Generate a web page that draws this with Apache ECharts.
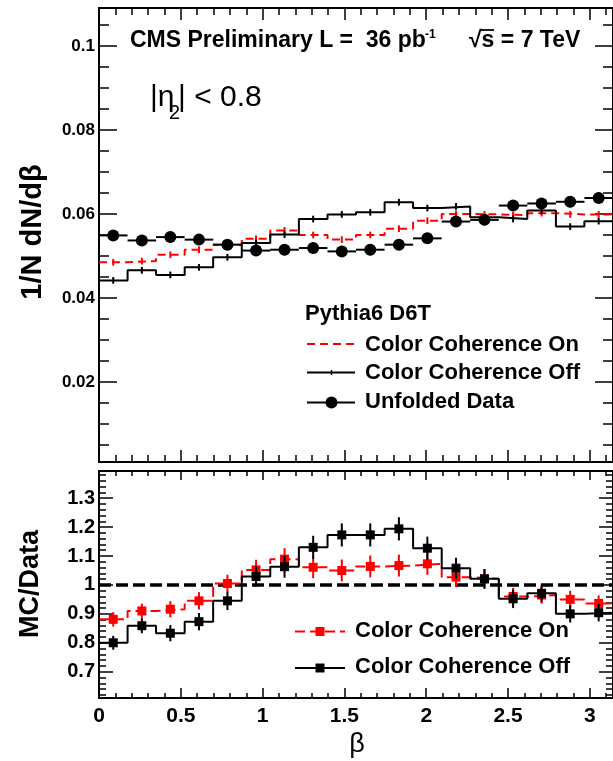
<!DOCTYPE html>
<html><head><meta charset="utf-8">
<script src="https://cdn.jsdelivr.net/npm/echarts@6/dist/echarts.min.js"></script>
<style>html,body{margin:0;padding:0;background:#fff}#c{width:613px;height:761px}</style>
</head><body><div id="c"></div>
<script>
// ---- data ----
const binCenters = [0.087,0.262,0.436,0.611,0.785,0.960,1.134,1.309,1.484,1.658,1.833,2.007,2.182,2.356,2.531,2.705,2.880,3.054];
const binHalf = 0.0873;
const dataVals = [0.0549,0.0537,0.0545,0.0539,0.0527,0.0513,0.0515,0.0519,0.0511,0.0515,0.0527,0.0542,0.0582,0.0586,0.0620,0.0625,0.0629,0.0638];
const dataErr  = [0.0013,0.0013,0.0013,0.0013,0.0013,0.0013,0.0013,0.0013,0.0013,0.0013,0.0013,0.0013,0.0013,0.0013,0.0013,0.0013,0.0013,0.0013];
const onVals   = [0.0485,0.0488,0.0503,0.0515,0.0527,0.0541,0.0561,0.0550,0.0539,0.0550,0.0565,0.0584,0.0600,0.0599,0.0597,0.0602,0.0599,0.0599];
const onErr    = [0.0008,0.0008,0.0008,0.0008,0.0008,0.0008,0.0008,0.0008,0.0008,0.0008,0.0008,0.0008,0.0008,0.0008,0.0008,0.0008,0.0008,0.0008];
const offVals  = [0.0442,0.0466,0.0455,0.0473,0.0497,0.0531,0.0551,0.0588,0.0599,0.0604,0.0628,0.0614,0.0618,0.0592,0.0588,0.0608,0.0570,0.0583];
const offErr   = [0.0008,0.0008,0.0008,0.0008,0.0008,0.0008,0.0008,0.0008,0.0008,0.0008,0.0008,0.0008,0.0008,0.0008,0.0008,0.0008,0.0008,0.0008];
const ratioOn     = [0.881,0.910,0.916,0.945,1.005,1.052,1.089,1.061,1.050,1.064,1.067,1.073,1.027,1.021,0.960,0.965,0.950,0.936];
const ratioOnErr  = [0.025,0.025,0.028,0.030,0.030,0.035,0.038,0.038,0.038,0.038,0.038,0.038,0.035,0.033,0.030,0.030,0.030,0.028];
const ratioOff    = [0.800,0.859,0.833,0.873,0.945,1.029,1.063,1.130,1.173,1.173,1.194,1.127,1.058,1.021,0.952,0.971,0.900,0.904];
const ratioOffErr = [0.024,0.026,0.028,0.030,0.032,0.035,0.038,0.040,0.040,0.040,0.040,0.040,0.036,0.034,0.032,0.030,0.030,0.030];
const xTickLabels = [0,0.5,1,1.5,2,2.5,3];
const yTopTickLabels = [0.02,0.04,0.06,0.08,0.1];
const yBotTickLabels = [0.7,0.8,0.9,1,1.1,1.2,1.3];

// ---- helpers ----
const FONT = "'Liberation Sans', Arial, sans-serif";
function range(a,b,s){const r=[];for(let v=a;v<=b+1e-9;v+=s)r.push(+v.toFixed(4));return r;}
const xMinor = range(0,3.1,0.1);
const xMajor = xTickLabels;
const yTopMinor = range(0.005,0.105,0.005);
const yTopMajor = yTopTickLabels;
const yBotMinor = range(0.62,1.38,0.02);
const yBotMajor = yBotTickLabels;

function histData(vals){
  const d = vals.map((v,i)=>[binCenters[i]-binHalf, v]);
  d.push([binCenters[vals.length-1]+binHalf, vals[vals.length-1]]);
  return d;
}
function ptData(vals, errs){ return vals.map((v,i)=>[binCenters[i], v, errs[i]]); }

function errRender(color, xhalf, marker, msize, lw){
  return function(params, api){
    const x = api.value(0), y = api.value(1), e = api.value(2);
    const pc = api.coord([x,y]), pt = api.coord([x,y+e]), pb = api.coord([x,y-e]);
    const ch = [{type:'line', shape:{x1:pc[0],y1:pt[1],x2:pc[0],y2:pb[1]}, style:{stroke:color,lineWidth:lw}}];
    if (xhalf){
      const pl = api.coord([x-xhalf,y]), pr = api.coord([x+xhalf,y]);
      ch.push({type:'line', shape:{x1:pl[0],y1:pc[1],x2:pr[0],y2:pc[1]}, style:{stroke:color,lineWidth:lw}});
    }
    if (marker==='circle') ch.push({type:'circle', shape:{cx:pc[0],cy:pc[1],r:msize/2}, style:{fill:color}});
    if (marker==='rect') ch.push({type:'rect', shape:{x:pc[0]-msize/2,y:pc[1]-msize/2,width:msize,height:msize}, style:{fill:color}});
    return {type:'group', children:ch};
  };
}

function xAx(g, pos, ticks, len, labels){
  return {type:'value', gridIndex:g, position:pos, min:0, max:Math.PI,
    axisLine:{show:true, onZero:false, lineStyle:{color:'#000', width:2}},
    axisTick:{show:true, inside:true, length:len, customValues:ticks, lineStyle:{color:'#000', width:1.5}},
    axisLabel: labels ? {show:true, customValues:labels, margin:8, fontFamily:FONT, fontWeight:'bold', fontSize:21, color:'#000',
       formatter:v=>String(+(+v).toFixed(2))} : {show:false},
    splitLine:{show:false}};
}
function yAx(g, pos, min, max, ticks, len, labels, fs){
  return {type:'value', gridIndex:g, position:pos, min:min, max:max,
    axisLine:{show:true, onZero:false, lineStyle:{color:'#000', width:2}},
    axisTick:{show:true, inside:true, length:len, customValues:ticks, lineStyle:{color:'#000', width:1.5}},
    axisLabel: labels ? {show:true, customValues:labels, margin:4, fontFamily:FONT, fontWeight:'bold', fontSize:fs, color:'#000',
       formatter:v=>String(+(+v).toFixed(3))} : {show:false},
    splitLine:{show:false}};
}

const topMin = 0.001, topMax = 0.109, botMin = 0.609, botMax = 1.394;

const xAxes = [
  xAx(0,'bottom',xMinor,7,null), xAx(0,'bottom',xMajor,12,null), xAx(0,'top',xMinor,7,null), xAx(0,'top',xMajor,12,null),
  xAx(1,'bottom',xMinor,5,xTickLabels), xAx(1,'bottom',xMajor,10,null), xAx(1,'top',xMinor,5,null), xAx(1,'top',xMajor,9,null)
];
const yAxes = [
  yAx(0,'left',topMin,topMax,yTopMinor,10,null), yAx(0,'left',topMin,topMax,yTopMajor,18,yTopTickLabels,17),
  yAx(0,'right',topMin,topMax,yTopMinor,10,null), yAx(0,'right',topMin,topMax,yTopMajor,18,null),
  yAx(1,'left',botMin,botMax,yBotMinor,7,null), yAx(1,'left',botMin,botMax,yBotMajor,14,yBotTickLabels,20),
  yAx(1,'right',botMin,botMax,yBotMinor,7,null), yAx(1,'right',botMin,botMax,yBotMajor,14,null)
];

const RED = '#ff0000';
const series = [
  // top panel
  {type:'line', xAxisIndex:0, yAxisIndex:0, step:'end', symbol:'none', data:histData(onVals),
   lineStyle:{color:RED, width:2, type:[8,5]}, silent:true, z:3},
  {type:'line', xAxisIndex:0, yAxisIndex:0, step:'end', symbol:'none', data:histData(offVals),
   lineStyle:{color:'#000', width:2}, silent:true, z:3},
  {type:'custom', xAxisIndex:0, yAxisIndex:0, data:ptData(onVals,onErr), encode:{x:0,y:1},
   renderItem:errRender(RED,0,null,0,2), z:4},
  {type:'custom', xAxisIndex:0, yAxisIndex:0, data:ptData(offVals,offErr), encode:{x:0,y:1},
   renderItem:errRender('#000',0,null,0,2), z:4},
  {type:'custom', xAxisIndex:0, yAxisIndex:0, data:ptData(dataVals,dataErr), encode:{x:0,y:1},
   renderItem:errRender('#000',binHalf,'circle',12,2), z:5},
  // bottom panel
  {type:'line', xAxisIndex:4, yAxisIndex:4, symbol:'none', data:[[0,1],[Math.PI,1]],
   lineStyle:{color:'#000', width:3.5, type:[12,5]}, silent:true, z:2},
  {type:'line', xAxisIndex:4, yAxisIndex:4, step:'end', symbol:'none', data:histData(ratioOn),
   lineStyle:{color:RED, width:2, type:[10,5]}, silent:true, z:3},
  {type:'line', xAxisIndex:4, yAxisIndex:4, step:'end', symbol:'none', data:histData(ratioOff),
   lineStyle:{color:'#000', width:2}, silent:true, z:3},
  {type:'custom', xAxisIndex:4, yAxisIndex:4, data:ptData(ratioOn,ratioOnErr), encode:{x:0,y:1},
   renderItem:errRender(RED,0,'rect',9,2), z:4},
  {type:'custom', xAxisIndex:4, yAxisIndex:4, data:ptData(ratioOff,ratioOffErr), encode:{x:0,y:1},
   renderItem:errRender('#000',0,'rect',9,2), z:5}
];

// text placed by its baseline (converted to a middle anchor)
function txt(x,base,t,fs,bold){
  return {type:'text', x:x, y:base-0.31*fs, style:{text:t, fontFamily:FONT, fontSize:fs, fontWeight:bold?'bold':'normal',
    fill:'#000', align:'left', verticalAlign:'middle'}, z:20};
}
const graphics = [
  txt(130,47.5,'CMS Preliminary L =  36 pb',23,true),
  txt(425,38,'-1',12,true),
  txt(469,47.5,'\u221As = 7 TeV',23,true),
  {type:'line', shape:{x1:481,y1:30,x2:494,y2:30}, style:{stroke:'#000', lineWidth:1.8}, z:20},
  txt(150,107,'|\u03B7',30,false),
  txt(169,120,'2',20,false),
  txt(178,107,'| < 0.8',30,false),
  // top legend
  txt(305,321,'Pythia6 D6T',22,true),
  {type:'line', shape:{x1:307,y1:344,x2:355,y2:344}, style:{stroke:RED, lineWidth:2, lineDash:[8,5]}, z:20},
  txt(365,352,'Color Coherence On',22,true),
  {type:'line', shape:{x1:307,y1:372.5,x2:355,y2:372.5}, style:{stroke:'#000', lineWidth:2}, z:20},
  {type:'line', shape:{x1:331.5,y1:370,x2:331.5,y2:375}, style:{stroke:'#000', lineWidth:1.5}, z:20},
  txt(365,379.5,'Color Coherence Off',22,true),
  {type:'line', shape:{x1:307,y1:402.5,x2:355,y2:402.5}, style:{stroke:'#000', lineWidth:2}, z:20},
  {type:'circle', shape:{cx:331.5,cy:402.5,r:6}, style:{fill:'#000'}, z:21},
  txt(365,409,'Unfolded Data',22,true),
  // bottom legend
  {type:'line', shape:{x1:295,y1:631.5,x2:345,y2:631.5}, style:{stroke:RED, lineWidth:2, lineDash:[10,5]}, z:20},
  {type:'rect', shape:{x:315.5,y:627,width:9,height:9}, style:{fill:RED}, z:21},
  txt(355,638,'Color Coherence On',22,true),
  {type:'line', shape:{x1:295,y1:668,x2:345,y2:668}, style:{stroke:'#000', lineWidth:2}, z:20},
  {type:'rect', shape:{x:315.5,y:663.5,width:9,height:9}, style:{fill:'#000'}, z:21},
  txt(355,674,'Color Coherence Off',22,true),
  // axis titles
  {type:'text', x:33, y:232, rotation:Math.PI/2, style:{text:'1/N dN/d\u03B2', fontFamily:FONT, fontSize:29, fontWeight:'bold',
    fill:'#000', align:'center', verticalAlign:'middle'}, z:20},
  {type:'text', x:31, y:584, rotation:Math.PI/2, style:{text:'MC/Data', fontFamily:FONT, fontSize:27, fontWeight:'bold',
    fill:'#000', align:'center', verticalAlign:'middle'}, z:20},
  {type:'text', x:357, y:745, style:{text:'\u03B2', fontFamily:FONT, fontSize:27, fill:'#000', align:'center', verticalAlign:'middle'}, z:20}
];

const chart = echarts.init(document.getElementById('c'), null, {renderer:'canvas'});
chart.setOption({
  animation:false,
  backgroundColor:'#fff',
  grid:[
    {left:99, top:8, width:523, height:454},
    {left:99, top:471, width:523, height:227}
  ],
  xAxis:xAxes, yAxis:yAxes, series:series, graphic:graphics
});
</script></body></html>
